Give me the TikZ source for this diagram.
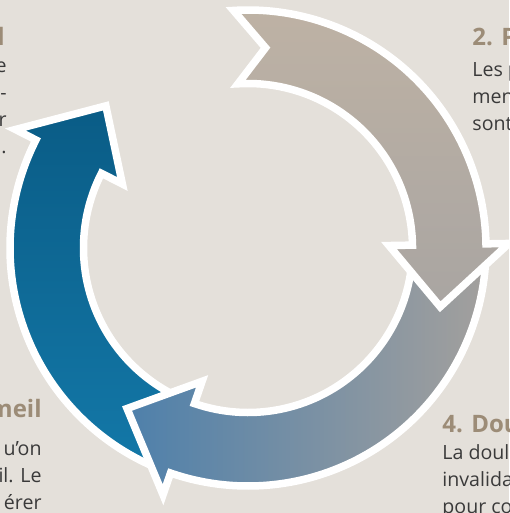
\documentclass[tikz,border=0pt]{standalone}
\usepackage{fontspec}
\setmainfont{Open Sans}

\definecolor{paper}{HTML}{E4E0DA}
\definecolor{headbrown}{HTML}{9C8C77}
\definecolor{bodygray}{HTML}{3A3A3A}
\definecolor{sandtop}{HTML}{BEB2A4}
\definecolor{sandlow}{HTML}{A9A5A2}
\definecolor{slateleft}{HTML}{4E80AB}
\definecolor{slatemid}{HTML}{8793A1}
\definecolor{slateright}{HTML}{A3A09D}
\definecolor{petroltop}{HTML}{0A5C86}
\definecolor{petrollow}{HTML}{1378A8}

% ring arrow: tail angle, head base angle (runs clockwise)
\newcommand{\ringarrow}[2]{%
  (#1:238) arc[start angle=#1, end angle=#2, radius=238]
  -- (#2:261) -- ({#2-18}:201) -- (#2:141) -- (#2:164.5)
  arc[start angle=#2, end angle=#1, radius=164.5]
  -- ({#1-8.5}:201) -- cycle}

\tikzset{
  ringline/.style={draw=white, line width=3.75pt, line join=miter},
  headtext/.style={font=\fontsize{12}{14}\selectfont\bfseries, text=headbrown, inner sep=0pt},
  bodytext/.style={font=\fontsize{9.8}{12}\selectfont, text=bodygray, inner sep=0pt}
}

\begin{document}
\begin{tikzpicture}[x=0.5pt, y=0.5pt]

  % --- Frame ---
  \useasboundingbox (-248,-265) rectangle (261,248);
  \clip (-248,-265) rectangle (261,248);
  \fill[paper] (-248,-265) rectangle (261,248);

  % --- Arrows ---
  \draw[ringline, top color=petroltop, bottom color=petrollow] \ringarrow{248}{153};
  \draw[ringline, left color=slateleft, middle color=slatemid, right color=slateright] \ringarrow{-2}{-109};
  \draw[ringline, top color=sandtop, bottom color=sandlow] \ringarrow{93.5}{1};

  % --- Top left ---
  \node[headtext, anchor=base east] (tl-head) at (-243, 202) {l};
  \foreach \txt [count=\i] in {e,-,r,.}
    \node[bodytext, anchor=base east] (tl-\i) at (-241, {202-27*\i}) {\txt};

  % --- Top right ---
  \node[headtext, anchor=base west] (tr-head) at (224, 202) {2. P};
  \foreach \txt [count=\i] in {Les p, men, sont}
    \node[bodytext, anchor=base west] (tr-\i) at (224, {198-27*\i}) {\txt};

  % --- Bottom left ---
  \node[headtext, anchor=base east] (bl-head) at (-206, -169) {meil};
  \foreach \txt [count=\i] in {u’on, il. Le, érer}
    \node[bodytext, anchor=base east] (bl-\i) at (-206, {-180-27*\i}) {\txt};

  % --- Bottom right ---
  \node[headtext, anchor=base west] (br-head) at (194, -184) {4. Dou};
  \foreach \txt [count=\i] in {La doul, invalida, pour co}
    \node[bodytext, anchor=base west] (br-\i) at (194, {-184-27*\i}) {\txt};

\end{tikzpicture}
\end{document}
